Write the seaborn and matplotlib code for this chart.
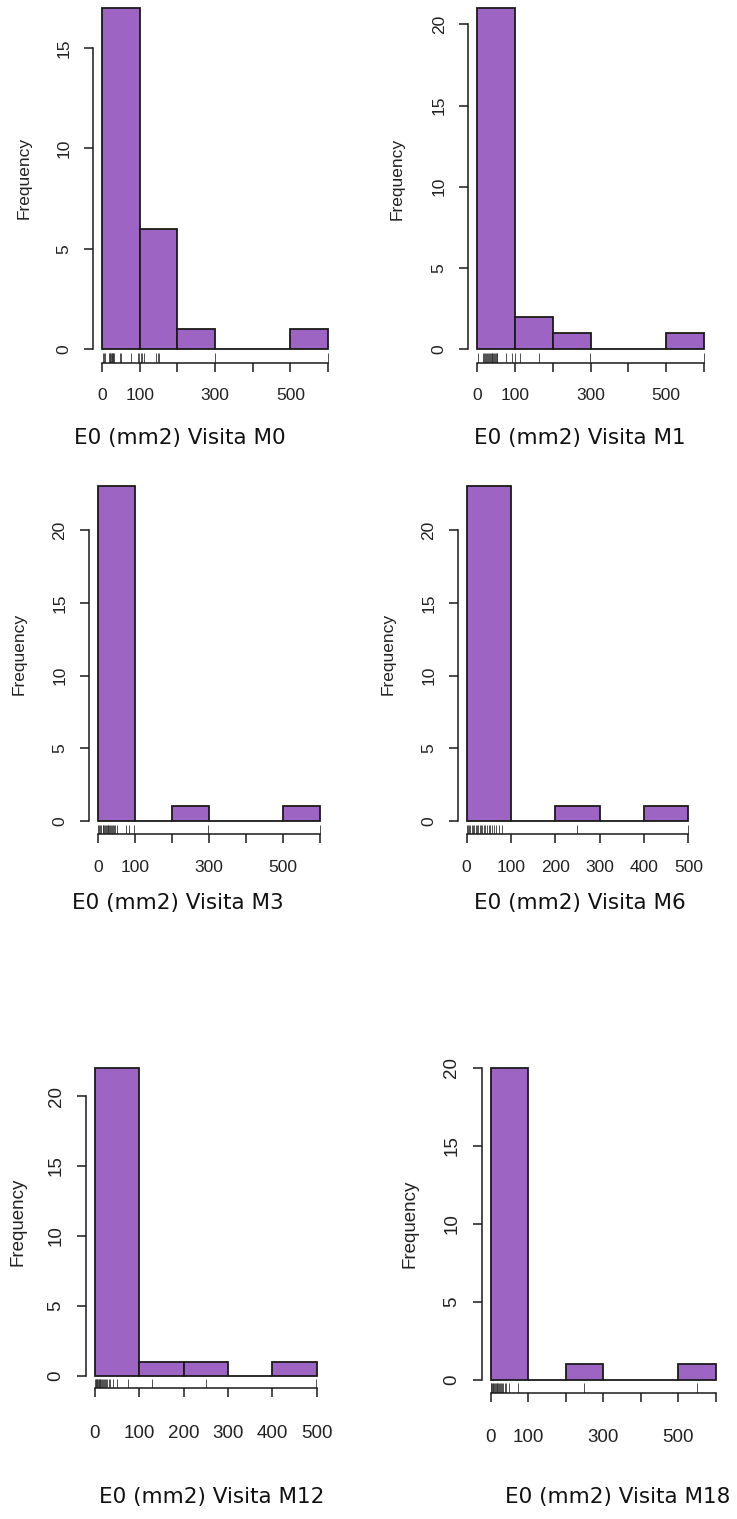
import numpy as np
import matplotlib
matplotlib.use("Agg")
import matplotlib.pyplot as plt
import seaborn as sns

# Lesion area E0 (mm2) per patient at each visit
visits = ["M0", "M1", "M3", "M6", "M12", "M18"]

e0_m0 = [3, 5, 8, 18, 20, 22, 24, 26, 27, 28, 30, 32, 48, 50, 77, 95, 98,
         103, 105, 111, 143, 148, 151, 299, 599]
e0_m1 = [3, 16, 19, 21, 24, 26, 29, 31, 34, 36, 38, 40, 42, 44, 47, 49, 51, 53,
         76, 92, 99, 112, 164, 299, 599]
e0_m3 = [2, 4, 6, 9, 13, 15, 18, 20, 22, 24, 27, 29, 31, 34, 36, 39, 42, 45,
         47, 51, 76, 84, 98, 299, 599]
e0_m6 = [0.5, 3, 6, 8, 11, 14, 17, 20, 23, 26, 29, 32, 35, 39, 42, 45, 50, 53,
         57, 62, 66, 74, 79, 248, 499]
e0_m12 = [1, 2, 3, 4, 5, 6, 8, 9, 11, 12, 14, 16, 18, 20, 22, 25, 28, 31, 34,
          40, 50, 75, 128, 250, 499]
e0_m18 = [0.5, 2, 3.5, 5, 7, 9, 11, 14, 16, 18, 20, 23, 25, 27, 30, 34, 38, 41,
          48, 74, 249, 550]

breaks_600 = [0, 100, 200, 300, 400, 500, 600]
breaks_500 = [0, 100, 200, 300, 400, 500]
xlabels_600 = ["0", "100", "", "300", "", "500", ""]
xlabels_500 = ["0", "100", "200", "300", "400", "500"]
yticks_15 = [0, 5, 10, 15]
yticks_20 = [0, 5, 10, 15, 20]

series = [e0_m0, e0_m1, e0_m3, e0_m6, e0_m12, e0_m18]
breaks = [breaks_600, breaks_600, breaks_600, breaks_500, breaks_500, breaks_600]
xlabels = [xlabels_600, xlabels_600, xlabels_600, xlabels_500, xlabels_500, xlabels_600]
yticks = [yticks_15, yticks_20, yticks_20, yticks_20, yticks_20, yticks_20]

W, H = 737, 1519
# plot regions in pixels: left, top, right, bottom
boxes = [
    (93.0, -5.8, 337.0, 362.6),
    (468.2, -5.5, 713.0, 362.6),
    (88.8, 473.0, 328.9, 834.4),
    (457.8, 473.0, 697.2, 834.4),
    (86.1, 1055.8, 325.6, 1388.0),
    (481.7, 1055.5, 724.7, 1392.5),
]
# anchor of the rotated y-axis title (its baseline side)
ylabel_x = [32, 405, 27, 396, 27, 418]
captions = [(179.5, 438), (580, 438), (178, 903), (580, 903), (212, 1497), (618, 1497)]
# the bottom row was exported slightly larger
text_size = [12.5, 12.5, 12.5, 12.5, 13.5, 13.5]
xpad = [12.0, 12.0, 12.0, 12.0, 20.0, 20.0]

sns.set_style("white")
plt.rcParams["font.family"] = ["Liberation Sans", "DejaVu Sans"]

BAR = "#9e64c4"
INK = "#1a1a1a"

fig = plt.figure(figsize=(W / 100, H / 100), dpi=100)

for vals, brk, xl, yt, box, ylx, cap, visit, fs, xp in zip(
        series, breaks, xlabels, yticks, boxes, ylabel_x, captions, visits,
        text_size, xpad):
    l, t, r, b = box
    ax = fig.add_axes([l / W, 1 - b / H, (r - l) / W, (b - t) / H])
    sns.histplot(x=vals, bins=brk, ax=ax, color=BAR, edgecolor=INK,
                 linewidth=1.3, alpha=1.0)
    counts, _ = np.histogram(vals, bins=brk)
    span = brk[-1] - brk[0]
    ax.set_xlim(brk[0] - 0.04 * span, brk[-1] + 0.04 * span)
    ymax = counts.max()
    ax.set_ylim(-0.04 * ymax, 1.04 * ymax)

    sns.rugplot(x=vals, ax=ax, height=0.027, color="#333333", linewidth=0.6)

    for side in ("top", "right"):
        ax.spines[side].set_visible(False)
    for side in ("left", "bottom"):
        ax.spines[side].set_color(INK)
        ax.spines[side].set_linewidth(1.1)
    ax.spines["bottom"].set_bounds(brk[0], brk[-1])
    ax.spines["left"].set_bounds(yt[0], yt[-1])

    ax.set_xticks(brk)
    ax.set_xticklabels(xl)
    ax.set_yticks(yt)
    ax.set_yticklabels([str(v) for v in yt], rotation=90, va="center")
    ax.tick_params(axis="both", direction="out", length=6.5, width=1.1,
                   color=INK, labelsize=fs, labelcolor="#222222",
                   bottom=True, left=True)
    ax.tick_params(axis="x", pad=xp)
    ax.tick_params(axis="y", pad=9)

    ax.set_xlabel("")
    ax.set_ylabel("Frequency", fontsize=fs, color="#222222")
    ax.yaxis.set_label_coords((ylx - l) / (r - l), 0.5)
    ax.grid(False)

    fig.text(cap[0] / W, 1 - cap[1] / H, f"E0 (mm2) Visita {visit}",
             ha="center", va="center", fontsize=15.5,
             family=["DejaVu Sans"], color="#111111")

fig.savefig("out.png", dpi=100)
